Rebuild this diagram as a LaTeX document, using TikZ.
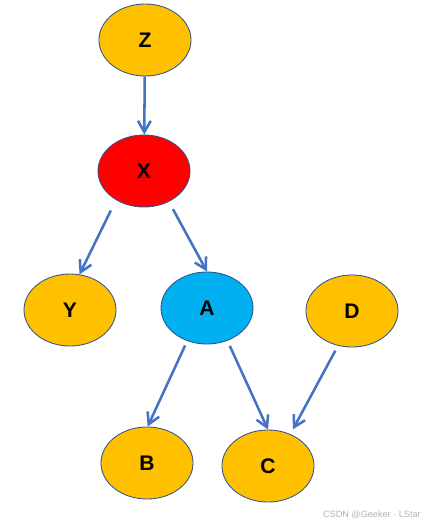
\documentclass[tikz,border=0pt]{standalone}
\usepackage{fontspec}
\setmainfont{Liberation Sans}
\usetikzlibrary{arrows.meta, shapes.geometric}
\definecolor{orangefill}{HTML}{FFC000}
\definecolor{redfill}{HTML}{FF0000}
\definecolor{cyanfill}{HTML}{00B0F0}
\definecolor{rim}{HTML}{2F528F}
\definecolor{edgeblue}{HTML}{4472C4}
\begin{document}
\begin{tikzpicture}[x=0.025cm, y=-0.025cm,
    var/.style={ellipse, draw=rim, line width=0.6pt, fill=orangefill,
                minimum width=2.3cm, minimum height=1.8cm, inner sep=0pt,
                font=\fontsize{15}{15}\selectfont\bfseries},
    link/.style={draw=edgeblue, line width=1.8pt,
                 -{Straight Barb[length=0.28cm, width=0.32cm, line width=1.8pt]}}]
    % --- MARCO ---
    \useasboundingbox (0,0) rectangle (425,527);

    % --- VARIABLES ---
    \node[var] (Z) at (145,40)  {Z};
    \node[var, fill=redfill]  (X) at (144,171) {X};
    \node[var] (Y) at (70,310)  {Y};
    \node[var, fill=cyanfill] (A) at (207,308) {A};
    \node[var] (D) at (352,311) {D};
    \node[var] (B) at (147,463) {B};
    \node[var] (C) at (268,466) {C};

    % --- FLECHAS ---
    \draw[link] (Z) -- (X);
    \draw[link, shorten <=0.29cm] (X.226) -- (Y.75);
    \draw[link, shorten <=0.21cm] (X.309) -- (A.90);
    \draw[link, shorten <=0.125cm] (A.239) -- (B.89);
    \draw[link, shorten <=0.14cm] (A.302) -- (C.90);
    \draw[link, shorten <=0.14cm, shorten >=0.135cm] (D.248) -- (C.55);

    % --- MARCA DE AGUA ---
    \node[text=black!30, font=\fontsize{6.5}{7}\selectfont, anchor=east, inner sep=0pt] (wm) at (421,515) {CSDN @Geeker · LStar};
\end{tikzpicture}
\end{document}
